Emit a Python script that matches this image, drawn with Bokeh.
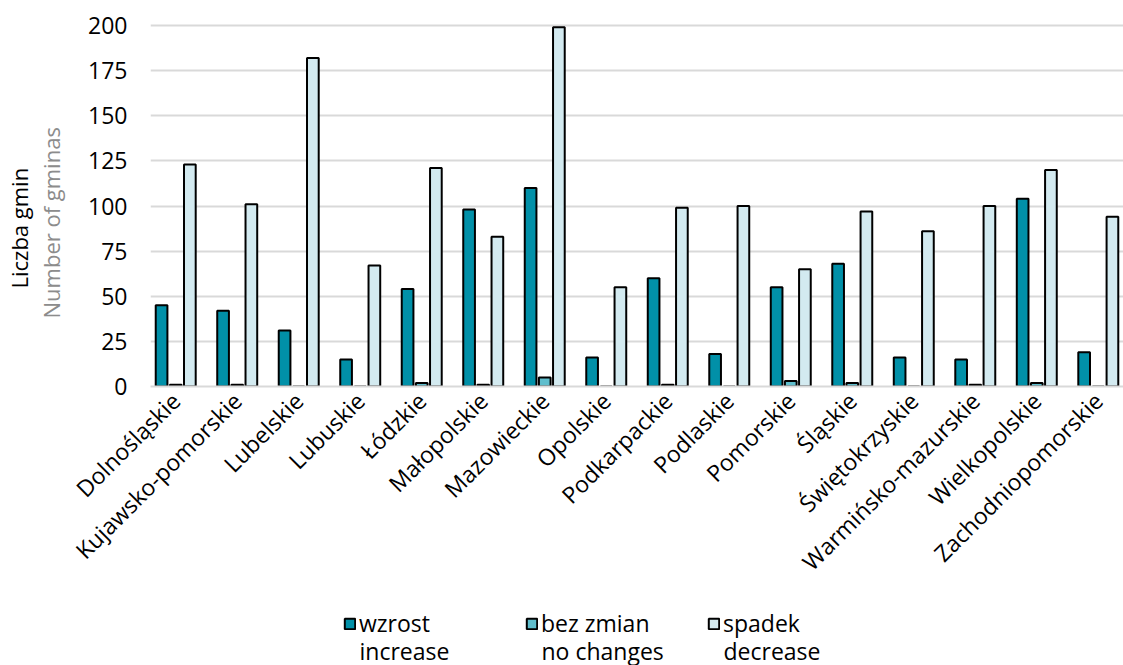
import math
from bokeh.plotting import figure
from bokeh.layouts import column
from bokeh.models import (ColumnDataSource, Legend, LegendItem, Title, FixedTicker,
                          FactorRange, Range1d, Label, BoxAnnotation)
from bokeh.transform import dodge
from bokeh.embed import file_html
from bokeh.resources import INLINE

regions = ["Dolnośląskie", "Kujawsko-pomorskie", "Lubelskie", "Lubuskie", "Łódzkie",
           "Małopolskie", "Mazowieckie", "Opolskie", "Podkarpackie", "Podlaskie",
           "Pomorskie", "Śląskie", "Świętokrzyskie", "Warmińsko-mazurskie",
           "Wielkopolskie", "Zachodniopomorskie"]
wzrost = [45, 42, 31, 15, 54, 98, 110, 16, 60, 18, 55, 68, 16, 15, 104, 19]
bez_zmian = [1, 1, 0, 0, 2, 1, 5, 0, 1, 0, 3, 2, 0, 1, 2, 0]
spadek = [123, 101, 182, 67, 121, 83, 199, 55, 99, 100, 65, 97, 86, 100, 120, 94]
y_ticks = [0, 25, 50, 75, 100, 125, 150, 175, 200]
series_pl = ["wzrost", "bez zmian", "spadek"]
series_en = ["increase", "no changes", "decrease"]
colors = ["#0190A8", "#5FBECD", "#D3EAF0"]
keys = ["wzrost", "bez", "spadek"]
offsets = [-0.23, 0.0, 0.23]

FONT = "Open Sans"
FS = "23px"
FS_T = "22px"

source = ColumnDataSource(dict(region=regions, wzrost=wzrost, bez=bez_zmian, spadek=spadek))

xr = FactorRange(*regions, range_padding=-0.09, range_padding_units="absolute")
p = figure(x_range=xr, y_range=Range1d(0, 205),
           width=1123, height=606,
           min_border_left=150, min_border_right=0, min_border_top=16, min_border_bottom=220,
           output_backend="svg", toolbar_location=None)

p.background_fill_color = "white"
p.border_fill_color = "white"
p.outline_line_color = None

bw = 0.19
for key, off, col in zip(keys, offsets, colors):
    p.vbar(x=dodge("region", off, range=p.x_range), top=key, width=bw, source=source,
           fill_color=col, line_color="black", line_width=2)

# grid
p.xgrid.grid_line_color = None
p.ygrid.grid_line_color = "#d9d9d9"
p.ygrid.grid_line_width = 2

# y axis
p.yaxis.ticker = FixedTicker(ticks=y_ticks)
p.yaxis.axis_line_color = None
p.yaxis.major_tick_line_color = None
p.yaxis.minor_tick_line_color = None
p.yaxis.major_tick_out = 0
p.yaxis.major_tick_in = 0
p.yaxis.minor_tick_out = 0
p.yaxis.major_label_text_font = FONT
p.yaxis.major_label_text_font_size = FS
p.yaxis.major_label_text_color = "black"
p.yaxis.major_label_standoff = 23
# blank spacer label, gives room between tick labels and the titles
p.yaxis.axis_label = " "
p.yaxis.axis_label_text_font_size = "2px"
p.yaxis.axis_label_standoff = 14

p.add_layout(Title(text="Number of gminas", align="left", offset=68, standoff=0,
                   text_font=FONT, text_font_size=FS_T, text_font_style="normal",
                   text_color="#8c8c8c"), "left")
p.add_layout(Title(text="Liczba gmin", align="left", offset=98, standoff=0,
                   text_font=FONT, text_font_size=FS_T, text_font_style="normal",
                   text_color="black"), "left")

# x axis
p.xaxis.axis_line_color = "#d9d9d9"
p.xaxis.axis_line_width = 2
p.xaxis.major_tick_line_color = None
p.xaxis.minor_tick_line_color = None
p.xaxis.major_tick_out = 0
p.xaxis.major_tick_in = 0
p.xaxis.major_label_orientation = math.pi / 4
p.xaxis.major_label_text_font = FONT
p.xaxis.major_label_text_font_size = FS
p.xaxis.major_label_text_color = "black"
p.xaxis.major_label_standoff = 10

# legend strip (same glyphs, drawn out of view, so only the legend swatches show)
lg = figure(width=1123, height=59, x_range=Range1d(0, 16), y_range=Range1d(1000, 1001),
            x_axis_type=None, y_axis_type=None, min_border=0,
            output_backend="svg", toolbar_location=None)
lg.outline_line_color = None
lg.grid.visible = False

items = []
for key, off, col, name in zip(keys, offsets, colors, series_pl):
    r = lg.vbar(x=dodge("region", off, range=p.x_range), top=key, width=bw, source=source,
                fill_color=col, line_color="black", line_width=2)
    items.append(LegendItem(label=name, renderers=[r]))

# white cover over the strip's frame, drawn above glyphs and below the legend
lg.add_layout(BoxAnnotation(fill_color="white", fill_alpha=1.0, line_alpha=0.0), "center")

LX, STEP, GW, LS = 193, 182, 13, 3
legend = Legend(items=items, orientation="horizontal", location=(LX, 26),
                label_text_font=FONT, label_text_font_size=FS, label_text_color="black",
                glyph_width=GW, glyph_height=GW, label_standoff=LS,
                label_width=STEP - GW - LS - 16, spacing=16,
                padding=0, margin=0, border_line_color=None, background_fill_alpha=0)
lg.add_layout(legend, "center")

for k, name in enumerate(series_en):
    lg.add_layout(Label(x=LX + k * STEP + GW + LS, y=15, x_units="screen", y_units="screen",
                        text=name, text_font=FONT, text_font_size=FS, text_color="black",
                        text_baseline="middle", text_align="left"))

layout = column(p, lg, spacing=0)
open("out.html", "w").write(file_html(layout, INLINE))
